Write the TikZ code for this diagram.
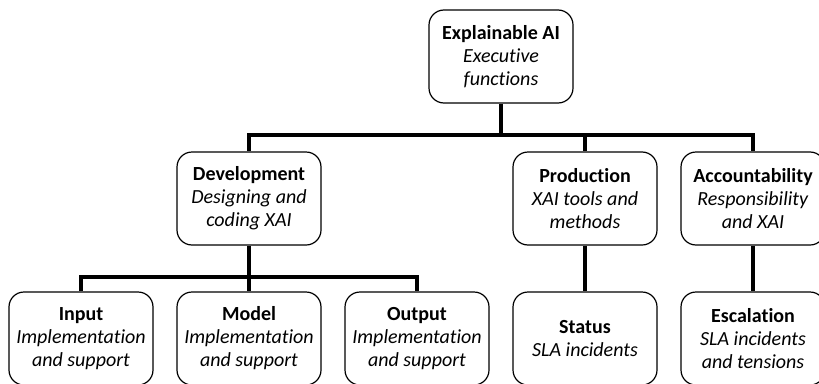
\documentclass[tikz,border=0pt]{standalone}
\usepackage{fontspec}
\setmainfont{Carlito}[Ligatures=NoCommon]
\usepackage{tikz}

\tikzset{
  unit/.style={draw, line width=1.2pt, rounded corners=15pt, fill=white,
    minimum width=144pt, minimum height=93pt, inner sep=2pt,
    align=center, font=\fontsize{20}{23}\selectfont},
  link/.style={line width=4pt}
}

\begin{document}
\begin{tikzpicture}[x=1pt,y=-1pt]
\useasboundingbox (0,0) rectangle (819,383);

% Top of the tree
\node[unit] (xai) at (501,56.5) {\textbf{Explainable AI}\\\textit{Executive}\\\textit{functions}};

% Second level
\node[unit] (dev)  at (249,198.5) {\textbf{Development}\\\textit{Designing and}\\\textit{coding XAI}};
\node[unit] (prod) at (585,198.5) {\textbf{Production}\\\textit{XAI tools and}\\\textit{methods}};
\node[unit] (acc)  at (753,198.5) {\textbf{Accountability}\\\textit{Responsibility}\\\textit{and XAI}};

% Third level
\node[unit] (input)  at (81,338.5)  {\textbf{Input}\\\textit{Implementation}\\\textit{and support}};
\node[unit] (model)  at (249,338.5) {\textbf{Model}\\\textit{Implementation}\\\textit{and support}};
\node[unit] (output) at (417,338.5) {\textbf{Output}\\\textit{Implementation}\\\textit{and support}};
\node[unit] (status) at (585,338.5) {\textbf{Status}\\\textit{SLA incidents}};
\node[unit] (esc)    at (753,338.5) {\textbf{Escalation}\\\textit{SLA incidents}\\\textit{and tensions}};

% Bus lines
\coordinate (topbus) at (501,135);
\coordinate (devbus) at (249,277);

\draw[link] (xai.south) -- (topbus);
\draw[link] (topbus) -| (dev.north);
\draw[link] (topbus) -| (prod.north);
\draw[link] (topbus) -| (acc.north);

\draw[link] (dev.south) -- (devbus);
\draw[link] (devbus) -| (input.north);
\draw[link] (devbus) -- (model.north);
\draw[link] (devbus) -| (output.north);

\draw[link] (prod.south) -- (status.north);
\draw[link] (acc.south) -- (esc.north);

\end{tikzpicture}
\end{document}
